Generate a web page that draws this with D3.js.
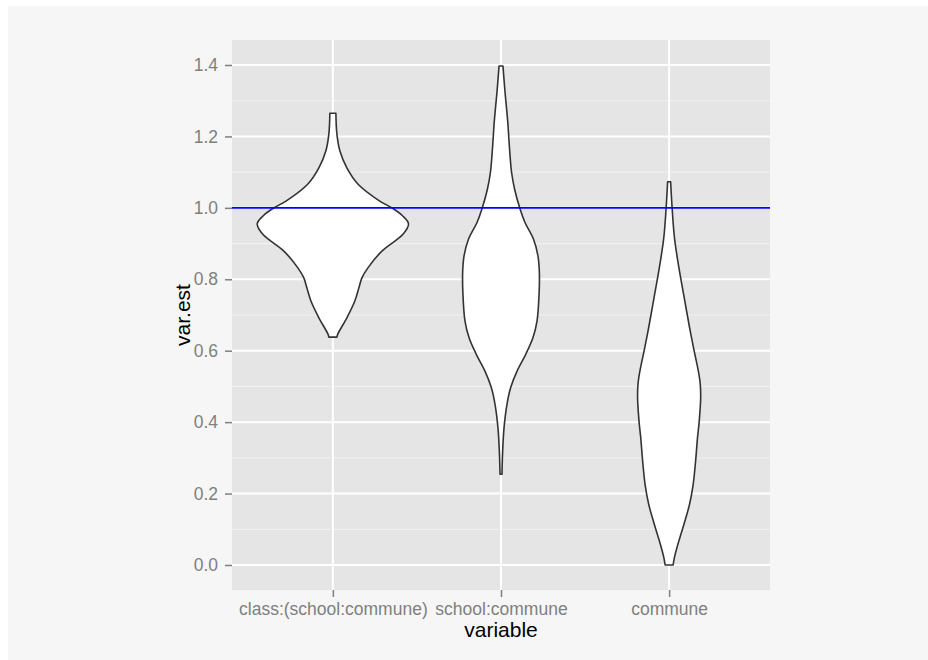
<!DOCTYPE html>
<html>
<head>
<meta charset="utf-8">
<script src="https://cdn.jsdelivr.net/npm/d3@7"></script>
<style>
  html, body { margin: 0; padding: 0; background: #fff; }
  svg { display: block; }
  text { font-family: "Liberation Sans", Arial, Helvetica, sans-serif; }
</style>
</head>
<body>
<div id="chart"></div>
<script>
const categories = ["class:(school:commune)", "school:commune", "commune"];

// violin outlines: [var.est, relative density]
const classDensity = [
  [0.638, 0.053], [0.647, 0.066], [0.692, 0.185], [0.739, 0.29], [0.776, 0.344],
  [0.804, 0.384], [0.832, 0.463], [0.879, 0.648], [0.926, 0.926], [0.955, 1.0],
  [0.978, 0.92], [1.0, 0.78], [1.019, 0.62], [1.067, 0.33], [1.112, 0.185],
  [1.159, 0.093], [1.207, 0.053], [1.265, 0.04]
];
const schoolDensity = [
  [0.254, 0.013], [0.319, 0.022], [0.384, 0.04], [0.45, 0.079], [0.497, 0.128],
  [0.543, 0.212], [0.59, 0.327], [0.637, 0.423], [0.683, 0.476], [0.758, 0.503],
  [0.819, 0.507], [0.865, 0.489], [0.912, 0.43], [0.959, 0.317], [0.998, 0.25],
  [1.052, 0.18], [1.099, 0.14], [1.145, 0.12], [1.19, 0.105], [1.239, 0.09],
  [1.332, 0.05], [1.397, 0.026]
];
const communeDensity = [
  [0.0, 0.053], [0.02, 0.069], [0.058, 0.116], [0.114, 0.196], [0.17, 0.27],
  [0.226, 0.318], [0.291, 0.35], [0.356, 0.375], [0.403, 0.398], [0.469, 0.417],
  [0.51, 0.41], [0.55, 0.38], [0.6, 0.33], [0.665, 0.27], [0.73, 0.215],
  [0.795, 0.16], [0.851, 0.115], [0.917, 0.07], [0.998, 0.04], [1.073, 0.02]
];
const densities = [classDensity, schoolDensity, communeDensity];

const yTicks = [0, 0.2, 0.4, 0.6, 0.8, 1.0, 1.2, 1.4];
const yMinor = [0.1, 0.3, 0.5, 0.7, 0.9, 1.1, 1.3];
const refLine = 1.0;

const width = 928;
const height = 660;
const panel = { left: 232, right: 770, top: 40, bottom: 590 };

const svg = d3.select("#chart")
  .append("svg")
  .attr("width", width)
  .attr("height", height);

// plot background
svg.append("rect")
  .attr("x", 8).attr("y", 6)
  .attr("width", width - 8).attr("height", height - 6)
  .attr("fill", "#f6f6f6");

const x = d3.scalePoint()
  .domain(categories)
  .range([panel.left, panel.right])
  .padding(0.6);

const y = d3.scaleLinear()
  .domain([-0.07, 1.47])
  .range([panel.bottom, panel.top]);

const w = d3.scaleLinear()
  .domain([0, 1])
  .range([0, 0.45 * x.step()]);

svg.append("rect")
  .attr("x", panel.left).attr("y", panel.top)
  .attr("width", panel.right - panel.left)
  .attr("height", panel.bottom - panel.top)
  .attr("fill", "#e5e5e5");

// grid
const grid = svg.append("g");
grid.selectAll(".minor")
  .data(yMinor)
  .join("line")
  .attr("x1", panel.left).attr("x2", panel.right)
  .attr("y1", d => y(d)).attr("y2", d => y(d))
  .attr("stroke", "#f2f2f2")
  .attr("stroke-width", 1);

grid.selectAll(".major")
  .data(yTicks)
  .join("line")
  .attr("x1", panel.left).attr("x2", panel.right)
  .attr("y1", d => y(d)).attr("y2", d => y(d))
  .attr("stroke", "#fff")
  .attr("stroke-width", 2);

grid.selectAll(".vmajor")
  .data(categories)
  .join("line")
  .attr("x1", d => x(d)).attr("x2", d => x(d))
  .attr("y1", panel.top).attr("y2", panel.bottom)
  .attr("stroke", "#fff")
  .attr("stroke-width", 2);

// violins
const violin = (cx) => d3.area()
  .curve(d3.curveCatmullRom.alpha(0.5))
  .y(d => y(d[0]))
  .x0(d => cx - w(d[1]))
  .x1(d => cx + w(d[1]));

svg.append("g")
  .selectAll("path")
  .data(categories)
  .join("path")
  .attr("d", (c, i) => violin(x(c))(densities[i]))
  .attr("fill", "#fff")
  .attr("stroke", "#333")
  .attr("stroke-width", 1.6)
  .attr("stroke-linejoin", "round");

// reference line
svg.append("line")
  .attr("x1", panel.left).attr("x2", panel.right)
  .attr("y1", y(refLine)).attr("y2", y(refLine))
  .attr("stroke", "#0000ff")
  .attr("stroke-width", 1.6);

// axes
const yAxis = svg.append("g")
  .attr("transform", `translate(${panel.left},0)`)
  .call(d3.axisLeft(y).tickValues(yTicks).tickFormat(d3.format(".1f")).tickSize(7).tickPadding(7));

const xAxis = svg.append("g")
  .attr("transform", `translate(0,${panel.bottom})`)
  .call(d3.axisBottom(x).tickSize(7).tickPadding(6));

[yAxis, xAxis].forEach(g => {
  g.select(".domain").remove();
  g.selectAll(".tick line").attr("stroke", "#7f7f7f").attr("stroke-width", 1.5);
  g.selectAll(".tick text")
    .attr("fill", "#7f7f7f")
    .attr("font-size", 17.5)
    .attr("font-family", "'Liberation Sans', Arial, sans-serif");
});

svg.append("text")
  .attr("x", (panel.left + panel.right) / 2)
  .attr("y", 637)
  .attr("text-anchor", "middle")
  .attr("font-size", 21)
  .attr("fill", "#000")
  .text("variable");

svg.append("text")
  .attr("transform", `translate(190,${(panel.top + panel.bottom) / 2}) rotate(-90)`)
  .attr("text-anchor", "middle")
  .attr("font-size", 21)
  .attr("fill", "#000")
  .text("var.est");
</script>
</body>
</html>
